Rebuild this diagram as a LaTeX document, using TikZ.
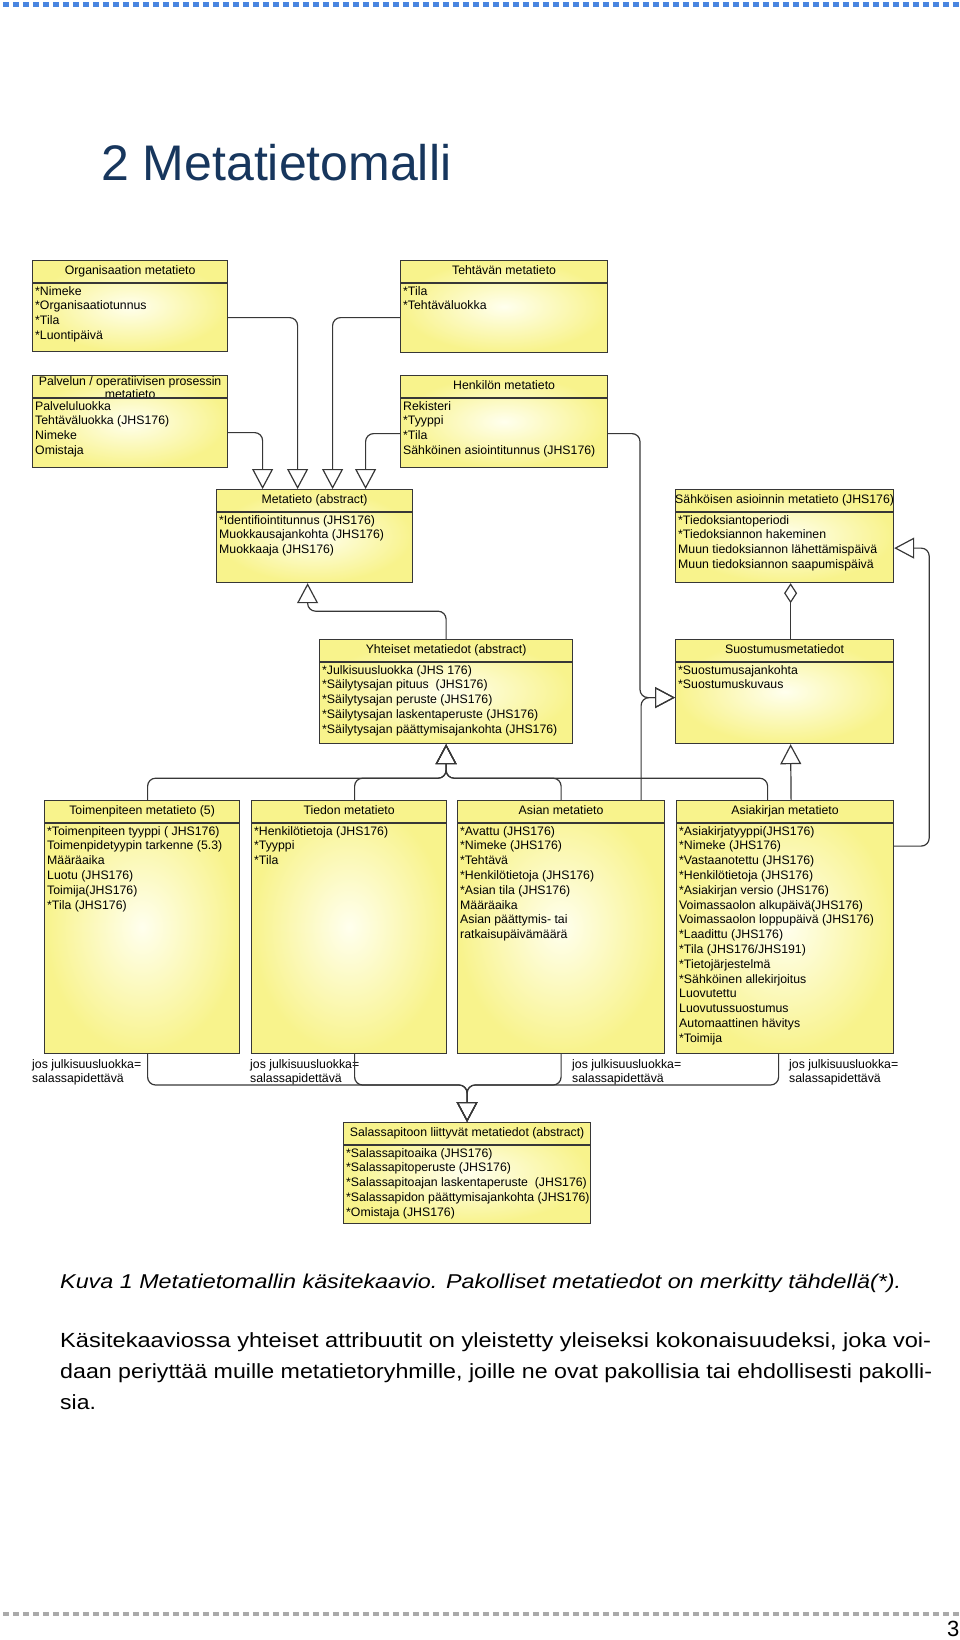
\documentclass[tikz,border=0pt]{standalone}
\usepackage{fontspec}
\usepackage{graphicx}
\setmainfont{Liberation Sans}
\usetikzlibrary{arrows.meta}

\definecolor{boxyellow}{RGB}{248,243,140}
\definecolor{boxlight}{RGB}{255,255,238}
\definecolor{umlline}{RGB}{55,55,55}
\definecolor{titleblue}{RGB}{23,54,93}
\definecolor{rulerblue}{RGB}{74,134,224}
\definecolor{rulergray}{RGB}{170,170,170}

\newcommand{\boxfont}{\fontsize{12.3}{14.8}\selectfont}

\tikzstyle{cls}=[draw=umlline,line width=1.2pt,anchor=north west,inner sep=0pt,inner color=boxlight,outer color=boxyellow]
\tikzstyle{hdr}=[anchor=north,minimum height=23pt,text height=9pt,text depth=2.5pt,inner sep=0pt,font=\boxfont]
\tikzstyle{attr}=[anchor=north west,xshift=3pt,yshift=-2pt,inner sep=0pt,align=left,font=\boxfont]
\tikzstyle{note}=[anchor=north west,inner sep=0pt,align=left,font=\boxfont]
\tikzstyle{sep}=[draw=umlline,line width=1.2pt]
\tikzstyle{conn}=[draw=umlline,line width=1.2pt,rounded corners=8pt]
\tikzstyle{gen}=[conn,-{Triangle[open,length=20pt,width=21pt]}]
\tikzstyle{agg}=[conn,{Diamond[open,length=20pt,width=13pt]}-]
\tikzstyle{bodytext}=[anchor=base west,inner sep=0pt]

\begin{document}
\begin{tikzpicture}[x=1pt,y=-1pt]
\useasboundingbox (0,0) rectangle (960,1640);

% page decoration
\draw[rulerblue,line width=5pt,dash pattern=on 6pt off 4pt] (3,5) -- (960,5);
\draw[rulergray,line width=4pt,dash pattern=on 6pt off 4pt] (3,1614) -- (960,1614);
\node[bodytext,font=\fontsize{50}{60}\selectfont,text=titleblue] (title) at (101,181) {2 Metatietomalli};
\node[bodytext,font=\fontsize{22}{26}\selectfont] (pnum) at (947,1636) {3};

% classes
\node[cls,minimum width=195,minimum height=91] (org) at (32,260) {};
\node[hdr] at (org.north) {Organisaation metatieto};
\draw[sep] ([yshift=-23pt]org.north west) -- ([yshift=-23pt]org.north east);
\node[attr] at ([yshift=-24pt]org.north west) {*Nimeke\\*Organisaatiotunnus\\*Tila\\*Luontipäivä};

\node[cls,minimum width=207,minimum height=92] (teht) at (400,260) {};
\node[hdr] at (teht.north) {Tehtävän metatieto};
\draw[sep] ([yshift=-23pt]teht.north west) -- ([yshift=-23pt]teht.north east);
\node[attr] at ([yshift=-24pt]teht.north west) {*Tila\\*Tehtäväluokka};

\node[cls,minimum width=195,minimum height=92] (palv) at (32,375) {};
\node[anchor=north,inner sep=0pt,align=center,font=\fontsize{12.3}{13}\selectfont] at ([yshift=-1pt]palv.north) {Palvelun / operatiivisen prosessin\\metatieto};
\draw[sep] ([yshift=-23pt]palv.north west) -- ([yshift=-23pt]palv.north east);
\node[attr] at ([yshift=-24pt]palv.north west) {Palveluluokka\\Tehtäväluokka (JHS176)\\Nimeke\\Omistaja};

\node[cls,minimum width=207,minimum height=92] (henk) at (400,375) {};
\node[hdr] at (henk.north) {Henkilön metatieto};
\draw[sep] ([yshift=-23pt]henk.north west) -- ([yshift=-23pt]henk.north east);
\node[attr] at ([yshift=-24pt]henk.north west) {Rekisteri\\*Tyyppi\\*Tila\\Sähköinen asiointitunnus (JHS176)};

\node[cls,minimum width=196,minimum height=93] (meta) at (216,489) {};
\node[hdr] at (meta.north) {Metatieto (abstract)};
\draw[sep] ([yshift=-23pt]meta.north west) -- ([yshift=-23pt]meta.north east);
\node[attr] at ([yshift=-24pt]meta.north west) {*Identifiointitunnus (JHS176)\\Muokkausajankohta (JHS176)\\Muokkaaja (JHS176)};

\node[cls,minimum width=218,minimum height=93] (sahk) at (675,489) {};
\node[hdr] at (sahk.north) {Sähköisen asioinnin metatieto (JHS176)};
\draw[sep] ([yshift=-23pt]sahk.north west) -- ([yshift=-23pt]sahk.north east);
\node[attr] at ([yshift=-24pt]sahk.north west) {*Tiedoksiantoperiodi\\*Tiedoksiannon hakeminen\\Muun tiedoksiannon lähettämispäivä\\Muun tiedoksiannon saapumispäivä};

\node[cls,minimum width=253,minimum height=104] (yht) at (319,639) {};
\node[hdr] at (yht.north) {Yhteiset metatiedot (abstract)};
\draw[sep] ([yshift=-23pt]yht.north west) -- ([yshift=-23pt]yht.north east);
\node[attr] at ([yshift=-24pt]yht.north west) {*Julkisuusluokka (JHS 176)\\*Säilytysajan pituus\ \ (JHS176)\\*Säilytysajan peruste (JHS176)\\*Säilytysajan laskentaperuste (JHS176)\\*Säilytysajan päättymisajankohta (JHS176)};

\node[cls,minimum width=218,minimum height=104] (suos) at (675,639) {};
\node[hdr] at (suos.north) {Suostumusmetatiedot};
\draw[sep] ([yshift=-23pt]suos.north west) -- ([yshift=-23pt]suos.north east);
\node[attr] at ([yshift=-24pt]suos.north west) {*Suostumusajankohta\\*Suostumuskuvaus};

\node[cls,minimum width=195,minimum height=253] (toim) at (44,800) {};
\node[hdr] at (toim.north) {Toimenpiteen metatieto (5)};
\draw[sep] ([yshift=-23pt]toim.north west) -- ([yshift=-23pt]toim.north east);
\node[attr] at ([yshift=-24pt]toim.north west) {*Toimenpiteen tyyppi ( JHS176)\\Toimenpidetyypin tarkenne (5.3)\\Määräaika\\Luotu (JHS176)\\Toimija(JHS176)\\*Tila (JHS176)};

\node[cls,minimum width=195,minimum height=253] (tied) at (251,800) {};
\node[hdr] at (tied.north) {Tiedon metatieto};
\draw[sep] ([yshift=-23pt]tied.north west) -- ([yshift=-23pt]tied.north east);
\node[attr] at ([yshift=-24pt]tied.north west) {*Henkilötietoja (JHS176)\\*Tyyppi\\*Tila};

\node[cls,minimum width=207,minimum height=253] (asia) at (457,800) {};
\node[hdr] at (asia.north) {Asian metatieto};
\draw[sep] ([yshift=-23pt]asia.north west) -- ([yshift=-23pt]asia.north east);
\node[attr] at ([yshift=-24pt]asia.north west) {*Avattu (JHS176)\\*Nimeke (JHS176)\\*Tehtävä\\*Henkilötietoja (JHS176)\\*Asian tila (JHS176)\\Määräaika\\Asian päättymis- tai\\ratkaisupäivämäärä};

\node[cls,minimum width=217,minimum height=253] (akir) at (676,800) {};
\node[hdr] at (akir.north) {Asiakirjan metatieto};
\draw[sep] ([yshift=-23pt]akir.north west) -- ([yshift=-23pt]akir.north east);
\node[attr] at ([yshift=-24pt]akir.north west) {*Asiakirjatyyppi(JHS176)\\*Nimeke (JHS176)\\*Vastaanotettu (JHS176)\\*Henkilötietoja (JHS176)\\*Asiakirjan versio (JHS176)\\Voimassaolon alkupäivä(JHS176)\\Voimassaolon loppupäivä (JHS176)\\*Laadittu (JHS176)\\*Tila (JHS176/JHS191)\\*Tietojärjestelmä\\*Sähköinen allekirjoitus\\Luovutettu\\Luovutussuostumus\\Automaattinen hävitys\\*Toimija};

\node[cls,minimum width=247,minimum height=101] (sala) at (343,1122) {};
\node[hdr] at (sala.north) {Salassapitoon liittyvät metatiedot (abstract)};
\draw[sep] ([yshift=-23pt]sala.north west) -- ([yshift=-23pt]sala.north east);
\node[attr] at ([yshift=-24pt]sala.north west) {*Salassapitoaika (JHS176)\\*Salassapitoperuste (JHS176)\\*Salassapitoajan laskentaperuste\ \ (JHS176)\\*Salassapidon päättymisajankohta (JHS176)\\*Omistaja (JHS176)};

% notes
\node[note] (n1) at (32,1059) {jos julkisuusluokka=\\salassapidettävä};
\node[note] (n2) at (250,1059) {jos julkisuusluokka=\\salassapidettävä};
\node[note] (n3) at (572,1059) {jos julkisuusluokka=\\salassapidettävä};
\node[note] (n4) at (789,1059) {jos julkisuusluokka=\\salassapidettävä};

% generalisations to Metatieto
\draw[gen] ([yshift=-11pt]palv.east) -| ([xshift=-52pt]meta.north);
\draw[gen] ([yshift=-11.5pt]org.east) -| ([xshift=-17pt]meta.north);
\draw[gen] ([yshift=-11pt]teht.west) -| ([xshift=18pt]meta.north);
\draw[gen] ([yshift=-12pt]henk.west) -| ([xshift=51pt]meta.north);
\draw[gen] (yht.north) |- ([xshift=-7pt,yshift=-28pt]meta.south) -- ([xshift=-7pt]meta.south);

% right hand side
\draw[gen] ([yshift=-12pt]henk.east) -| ([xshift=-35pt,yshift=-6pt]suos.west) -- ([yshift=-6pt]suos.west);
\draw[gen] ([xshift=80pt]asia.north) |- ([yshift=-6pt]suos.west);
\draw[agg] ([xshift=6pt]sahk.south) -- ([xshift=6pt]suos.north);
\draw[gen] ([xshift=6pt]akir.north) -- ([xshift=6pt]suos.south);
\draw[gen] ([yshift=81pt]akir.east) -| ([xshift=35pt,yshift=-12pt]sahk.east) -- ([yshift=-12pt]sahk.east);

% bottom row to Yhteiset metatiedot
\draw[gen] ([xshift=5.5pt]toim.north) |- ([yshift=-34pt]yht.south) -- (yht.south);
\draw[gen] ([xshift=5.5pt]tied.north) |- ([yshift=-34pt]yht.south) -- (yht.south);
\draw[gen] (asia.north) |- ([yshift=-34pt]yht.south) -- (yht.south);
\draw[gen] ([xshift=-17.5pt]akir.north) |- ([yshift=-34pt]yht.south) -- (yht.south);

% bottom row to Salassapitoon liittyvat metatiedot
\draw[gen] ([xshift=5.5pt]toim.south) |- ([yshift=37pt]sala.north) -- (sala.north);
\draw[gen] ([xshift=5.5pt]tied.south) |- ([yshift=37pt]sala.north) -- (sala.north);
\draw[gen] (asia.south) |- ([yshift=37pt]sala.north) -- (sala.north);
\draw[gen] ([xshift=-6.5pt]akir.south) |- ([yshift=37pt]sala.north) -- (sala.north);

% caption and text
\node[bodytext,font=\fontsize{20}{24}\selectfont\itshape] (cap) at (60,1288) {\resizebox{841pt}{\height}{Kuva 1 Metatietomallin käsitekaavio. Pakolliset metatiedot on merkitty tähdellä(*).}};
\node[bodytext,font=\fontsize{20.5}{31}\selectfont] (par1) at (60,1347) {\resizebox{871pt}{\height}{Käsitekaaviossa yhteiset attribuutit on yleistetty yleiseksi kokonaisuudeksi, joka voi-}};
\node[bodytext,font=\fontsize{20.5}{31}\selectfont] (par2) at (60,1378) {\resizebox{872pt}{\height}{daan periyttää muille metatietoryhmille, joille ne ovat pakollisia tai ehdollisesti pakolli-}};
\node[bodytext,font=\fontsize{20.5}{31}\selectfont] (par3) at (60,1409) {\scalebox{1.12}[1]{sia.}};
\end{tikzpicture}
\end{document}
